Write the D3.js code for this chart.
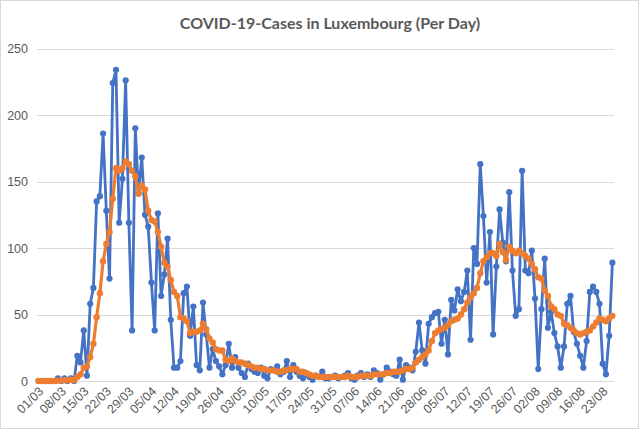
<!DOCTYPE html>
<html lang="en">
<head>
<meta charset="UTF-8">
<title>COVID-19-Cases in Luxembourg (Per Day)</title>
<script src="https://d3js.org/d3.v7.min.js"></script>
<style>
  body { margin: 0; background: #fff; }
  svg { display: block; font-family: Lato, "Open Sans", sans-serif; }
  .grid line { stroke: #d9d9d9; stroke-width: 1; }
  .axis text { fill: #595959; font-size: 12.5px; }
</style>
</head>
<body>
<svg width="639" height="429"></svg>
<script>
// days from 01/03 to 26/08
const days = d3.timeDay.range(new Date(2020, 2, 1), new Date(2020, 7, 27));

// daily new cases (blue)
const dailyCases = [
  0, 0, 0, 0, 0, 0, 2, 0, 2, 0, 2, 0, 19, 14, 38, 4, 58, 70, 135, 139,
  186, 128, 77, 224, 234, 119, 152, 226, 119, 38, 190, 141, 168, 125, 116, 74, 38, 126, 64, 80,
  107, 46, 10, 10, 15, 66, 71, 34, 56, 12, 8, 59, 35, 10, 24, 15, 11, 5, 12, 28,
  10, 18, 10, 6, 3, 13, 9, 7, 6, 10, 4, 2, 9, 8, 11, 5, 7, 15, 3, 12,
  7, 4, 2, 5, 3, 1, 4, 3, 7, 2, 2, 3, 4, 2, 3, 4, 6, 2, 1, 4,
  6, 3, 5, 3, 8, 6, 1, 5, 10, 7, 5, 4, 16, 1, 12, 10, 8, 22, 44, 23,
  13, 43, 48, 51, 52, 28, 46, 20, 61, 53, 69, 60, 67, 83, 31, 100, 88, 163, 124, 74,
  112, 35, 86, 129, 104, 90, 142, 83, 49, 54, 158, 83, 81, 98, 62, 9, 54, 92, 40, 52,
  36, 26, 10, 26, 58, 64, 37, 28, 19, 10, 30, 67, 71, 67, 58, 13, 5, 34, 89
];

// 7-day average (orange)
const weeklyAverage = [
  0, 0, 0, 0, 0, 0, 0.3, 0.3, 0.6, 0.6, 0.9, 0.6, 3, 5, 10, 11, 18, 28, 48, 66,
  90, 103, 112, 137, 160, 158, 160, 165, 163, 158, 154, 141, 147, 144, 128, 121, 120, 112, 101, 89,
  86, 76, 67, 64, 48, 47, 45, 36, 37, 37, 38, 43, 39, 32, 29, 24, 23, 23, 16, 15,
  17, 15, 14, 14, 13, 12, 11, 10, 10, 9, 9, 8, 8, 8, 7, 7, 8, 8, 9, 9,
  9, 7, 7, 6, 5, 4, 4, 3, 3, 3, 3, 3, 3, 3, 3, 3, 4, 3, 3, 3,
  4, 4, 4, 4, 5, 5, 5, 5, 6, 6, 7, 7, 7, 8, 9, 9, 10, 14, 16, 18,
  20, 23, 30, 36, 38, 39, 40, 42, 45, 46, 47, 50, 54, 59, 63, 66, 70, 81, 90, 93,
  96, 96, 94, 103, 97, 91, 101, 98, 96, 98, 96, 94, 92, 88, 84, 78, 77, 68, 64, 56,
  54, 50, 49, 43, 42, 40, 38, 36, 35, 36, 37, 38, 41, 44, 47, 46, 45, 47, 49
];

const yTicks = [0, 50, 100, 150, 200, 250];
const fmt = d3.timeFormat("%d/%m");

const svg = d3.select("svg");
const plotLeft = 37, plotRight = 614, plotTop = 48.5, plotBottom = 381;

// outer chart border
svg.append("rect")
  .attr("x", 0.5).attr("y", 0.5)
  .attr("width", 638).attr("height", 428)
  .attr("fill", "#fff").attr("stroke", "#d9d9d9");

svg.append("text")
  .attr("x", 330).attr("y", 29)
  .attr("text-anchor", "middle")
  .attr("fill", "#595959")
  .attr("font-size", "16px")
  .attr("font-weight", "bold")
  .text("COVID-19-Cases in Luxembourg (Per Day)");

const x = d3.scalePoint().domain(d3.range(days.length)).range([plotLeft, plotRight]).padding(0.5);
const y = d3.scaleLinear().domain([0, 250]).range([plotBottom, plotTop]);

// gridlines
svg.append("g").attr("class", "grid")
  .selectAll("line").data(yTicks).join("line")
  .attr("x1", plotLeft).attr("x2", plotRight)
  .attr("y1", d => Math.round(y(d)) + 0.5).attr("y2", d => Math.round(y(d)) + 0.5);

// y axis labels
const yAxis = svg.append("g").attr("class", "axis")
  .attr("transform", `translate(${plotLeft - 6},0)`)
  .call(d3.axisLeft(y).tickValues(yTicks).tickSize(0).tickPadding(3));
yAxis.select(".domain").remove();

// x axis labels every 7 days, rotated
const xAxis = svg.append("g").attr("class", "axis")
  .attr("transform", `translate(0,${plotBottom})`)
  .call(d3.axisBottom(x)
    .tickValues(d3.range(0, days.length, 7))
    .tickFormat(i => fmt(days[i]))
    .tickSize(0));
xAxis.select(".domain").remove();
xAxis.selectAll("text")
  .attr("text-anchor", "end")
  .attr("dx", "0").attr("dy", "0")
  .attr("transform", "translate(3,9) rotate(-45)");

const line = d3.line().x((d, i) => x(i)).y(d => y(d));

function drawSeries(values, color, width, r) {
  svg.append("path")
    .datum(values)
    .attr("fill", "none")
    .attr("stroke", color)
    .attr("stroke-width", width)
    .attr("stroke-linejoin", "round")
    .attr("d", line);
  svg.append("g")
    .selectAll("circle").data(values).join("circle")
    .attr("cx", (d, i) => x(i))
    .attr("cy", d => y(d))
    .attr("r", r)
    .attr("fill", color);
}

drawSeries(dailyCases, "#4472c4", 2.8, 3.1);
drawSeries(weeklyAverage, "#ed7d31", 3.2, 3.2);
</script>
</body>
</html>
